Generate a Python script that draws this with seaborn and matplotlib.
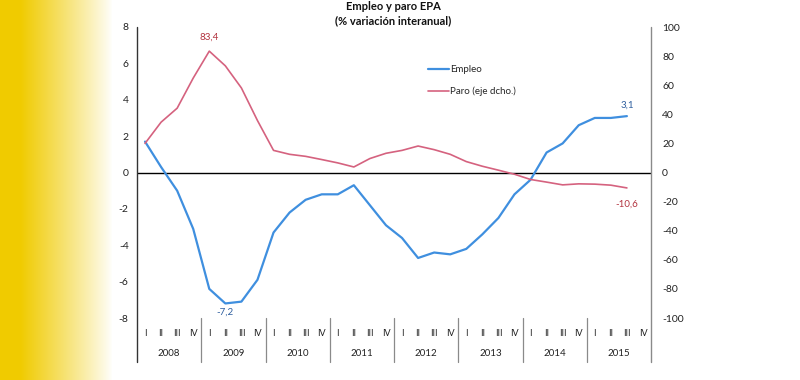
import numpy as np
import pandas as pd
import matplotlib
matplotlib.use("Agg")
import matplotlib.pyplot as plt
import matplotlib.transforms as mtransforms
from matplotlib.lines import Line2D
from matplotlib.colors import to_rgb
import seaborn as sns

# ---- data ----
years = ["2008", "2009", "2010", "2011", "2012", "2013", "2014", "2015"]
quarters = ["I", "II", "III", "IV"]

# Empleo, % yoy (left axis), 2008 I .. 2015 III
empleo = [1.7, 0.3, -1.0, -3.1, -6.4, -7.2, -7.1, -5.9,
          -3.3, -2.2, -1.5, -1.2, -1.2, -0.7, -1.8, -2.9,
          -3.6, -4.7, -4.4, -4.5, -4.2, -3.4, -2.5, -1.2,
          -0.4, 1.1, 1.6, 2.6, 3.0, 3.0, 3.1]

# Paro, % yoy (right axis)
paro = [20.0, 34.6, 44.2, 64.9, 83.4, 73.3, 58.1, 35.7,
        15.2, 12.5, 11.1, 8.9, 6.6, 3.8, 9.6, 13.2,
        15.2, 18.2, 15.7, 12.5, 7.5, 4.3, 1.6, -1.2,
        -4.8, -6.6, -8.5, -7.8, -8.0, -8.7, -10.6]

left_ticks = [-8, -6, -4, -2, 0, 2, 4, 6, 8]
right_ticks = [-100, -80, -60, -40, -20, 0, 20, 40, 60, 80, 100]

BLUE = "#3f8fdf"
RED = "#d5627f"

sns.set_theme(style="white")
plt.rcParams["font.family"] = ["Lato", "DejaVu Sans"]

df = pd.DataFrame({
    "pos": np.arange(len(empleo)),
    "empleo": empleo,
    "paro": paro,
})

W, H = 800, 380
fig = plt.figure(figsize=(W / 100, H / 100), dpi=100)
fig.patch.set_facecolor("white")

# yellow fade strip on the left
bg = fig.add_axes([0, 0, 1, 1], zorder=-10)
bg.axis("off")
px = np.arange(W)
mix = np.clip((112 - px) / 92.0, 0, 1) ** 0.9
yellow = np.array(to_rgb("#f0cb00"))
white = np.ones(3)
row = white[None, :] * (1 - mix[:, None]) + yellow[None, :] * mix[:, None]
bg.imshow(np.repeat(row[None, :, :], 2, axis=0), aspect="auto",
          extent=[0, 1, 0, 1], transform=bg.transAxes)

# main axes = data area
x0, x1, y0, y1 = 137, 651, 27, 318
ax = fig.add_axes([x0 / W, 1 - y1 / H, (x1 - x0) / W, (y1 - y0) / H])
ax.patch.set_alpha(0)
ax2 = ax.twinx()

sns.lineplot(data=df, x="pos", y="empleo", ax=ax, color=BLUE, lw=1.6,
             label="Empleo", legend=False)
sns.lineplot(data=df, x="pos", y="paro", ax=ax2, color=RED, lw=1.2,
             label="Paro (eje dcho.)", legend=False)

n = len(years) * len(quarters)
ax.set_xlim(-0.5, n - 0.5)
ax.set_ylim(-8, 8)
ax2.set_ylim(-100, 100)
ax.set_xticks([])
ax.set_xlabel("")
ax.set_ylabel("")
ax2.set_ylabel("")

ax.set_yticks(left_ticks)
ax.set_yticklabels([str(t) for t in left_ticks])
ax2.set_yticks(right_ticks)
ax2.set_yticklabels([str(t) for t in right_ticks])
ax.tick_params(axis="y", length=0, pad=6, labelsize=7.5, labelcolor="#222222")
ax2.tick_params(axis="y", length=0, pad=8, labelsize=7.5, labelcolor="#222222")

for a in (ax, ax2):
    for s in a.spines.values():
        s.set_visible(False)

ax.axhline(0, color="black", lw=1.0, zorder=1)

# axis lines running down through the category area
ext = -(362 - y1) / (y1 - y0)
ax.add_line(Line2D([0, 0], [1, ext], transform=ax.transAxes,
                   color="#333333", lw=1.0, clip_on=False))
ax.add_line(Line2D([1, 1], [1, ext], transform=ax.transAxes,
                   color="#8a8a8a", lw=1.0, clip_on=False))

# two-level category labels
trans = mtransforms.blended_transform_factory(ax.transData, ax.transAxes)
q_y = -(333 - y1) / (y1 - y0)
yr_y = -(354 - y1) / (y1 - y0)
for yi, yr in enumerate(years):
    for qi, q in enumerate(quarters):
        ax.text(yi * 4 + qi, q_y, q, transform=trans, ha="center", va="center",
                fontsize=6.5, color="#222222")
    ax.text(yi * 4 + 1.5, yr_y, yr, transform=trans, ha="center", va="center",
            fontsize=7, color="#222222")
    if yi > 0:
        ax.add_line(Line2D([yi * 4 - 0.5] * 2, [0, ext], transform=trans,
                           color="#8a8a8a", lw=0.9, clip_on=False))

# value labels
ipk = int(np.argmax(paro))
ax2.annotate(f"{paro[ipk]:.1f}".replace(".", ","), (ipk, paro[ipk]),
             xytext=(0, 9), textcoords="offset pixels", ha="center",
             va="bottom", fontsize=7, color="#b2333f")
imin = int(np.argmin(empleo))
ax.annotate(f"{empleo[imin]:.1f}".replace(".", ","), (imin, empleo[imin]),
            xytext=(0, -4), textcoords="offset pixels", ha="center",
            va="top", fontsize=7, color="#2f5f9f")
ax.annotate(f"{empleo[-1]:.1f}".replace(".", ","), (len(empleo) - 1, empleo[-1]),
            xytext=(0, 6), textcoords="offset pixels", ha="center",
            va="bottom", fontsize=7, color="#2f5f9f")
ax2.annotate(f"{paro[-1]:.1f}".replace(".", ","), (len(paro) - 1, paro[-1]),
             xytext=(0, -12), textcoords="offset pixels", ha="center",
             va="top", fontsize=7, color="#b2333f")

# legend
h1, l1 = ax.get_legend_handles_labels()
h2, l2 = ax2.get_legend_handles_labels()
ax2.legend(h1 + h2, l1 + l2, loc="upper left",
           bbox_to_anchor=(428 / W, 1 - 65 / H), bbox_transform=fig.transFigure,
           frameon=False, fontsize=7, handlelength=2.2, handletextpad=0.1,
           labelspacing=1.3, borderaxespad=0, borderpad=0)

fig.text(393 / W, 1 - 6 / H, "Empleo y paro EPA", ha="center", va="center",
         fontsize=8, fontweight="bold", color="#111111")
fig.text(393 / W, 1 - 21 / H, "(% variación interanual)", ha="center",
         va="center", fontsize=8, fontweight="bold", color="#111111")

fig.savefig("out.png", dpi=100)
